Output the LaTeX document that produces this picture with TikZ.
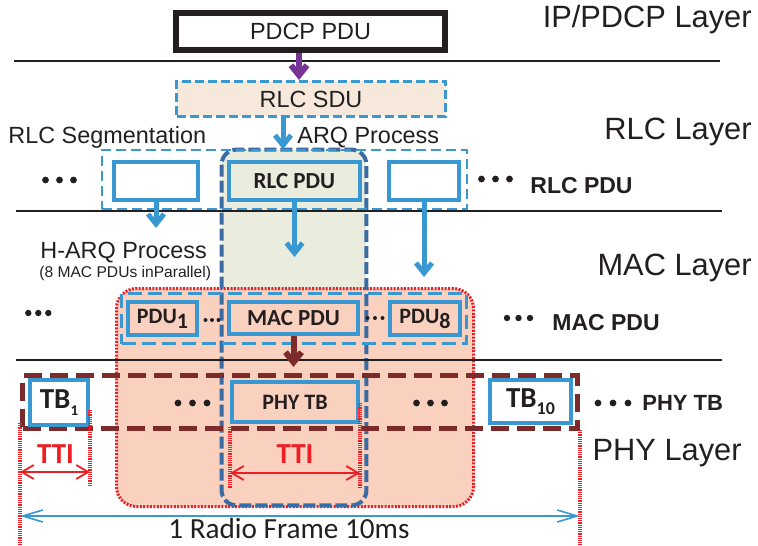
\documentclass[tikz,border=0pt]{standalone}
\usepackage{fontspec}
\setmainfont{Liberation Sans}
\newfontfamily\calibri{Carlito}
\usepackage{tikz}
\usetikzlibrary{arrows.meta}

\definecolor{boxblue}{RGB}{57,152,210}
\definecolor{arqblue}{RGB}{58,108,163}
\definecolor{sdufill}{RGB}{246,233,219}
\definecolor{arqfill}{RGB}{234,237,221}
\definecolor{harqfill}{RGB}{250,208,190}
\definecolor{ttired}{RGB}{237,30,36}
\definecolor{tbmaroon}{RGB}{125,42,42}
\definecolor{pdcppurple}{RGB}{118,52,148}
\definecolor{inkgray}{RGB}{35,31,32}

\newcommand{\fsz}[1]{\fontsize{#1pt}{#1pt}\selectfont}

\begin{document}
\begin{tikzpicture}[x=0.5pt, y=-0.5pt, text=inkgray,
    pdubox/.style={draw=boxblue, line width=2pt, inner sep=0pt, font=\calibri\bfseries\fsz{11.5}},
    groupbox/.style={draw=boxblue, inner sep=0pt},
    levelline/.style={draw=inkgray, line width=1pt},
    layerlabel/.style={anchor=base east, inner sep=0pt, font=\fsz{15.4}},
    sidelabel/.style={anchor=base west, inner sep=0pt, font=\fsz{11.7}},
    rowlabel/.style={anchor=base west, inner sep=0pt, font=\bfseries\fsz{11.5}},
    ttilabel/.style={anchor=base, inner sep=0pt, text=ttired, font=\calibri\bfseries\fsz{14.5}},
    downarrow/.style={line width=2.5pt, -{Straight Barb[length=5pt,width=8pt]}},
    ttimark/.style={draw=ttired, line width=2pt, dash pattern=on 0.6pt off 0.5pt},
    ttiarrow/.style={draw=ttired, line width=0.9pt, {Straight Barb[length=6pt,width=7pt]}-{Straight Barb[length=6pt,width=7pt]}},
    framearrow/.style={draw=boxblue, line width=0.8pt, {Straight Barb[length=10pt,width=6pt]}-{Straight Barb[length=10pt,width=6pt]}}]
    \useasboundingbox (0,0) rectangle (758,545);

    % ARQ column and H-ARQ region behind everything
    \node[fill=arqfill, rounded corners=7.5pt, minimum width=72pt, minimum height=177.5pt, inner sep=0pt] (arqcol) at (294,327.5) {};
    \node[fill=harqfill, draw=ttired, line width=1.5pt, dash pattern=on 1pt off 0.7pt, rounded corners=10pt,
        minimum width=178.5pt, minimum height=109pt, inner sep=0pt] (harq) at (295,397.5) {};
    \draw[arqblue, line width=2pt, dash pattern=on 6pt off 2pt, rounded corners=7.5pt] (arqcol.north west) rectangle (arqcol.south east);

    % Draw layer lines
    \draw[levelline] (14,61) -- (720,61);
    \draw[levelline] (16,211) -- (722,211);
    \draw[levelline] (16,360) -- (722,360);

    % IP/PDCP and RLC SDU
    \node[draw=inkgray, line width=3pt, minimum width=134.5pt, minimum height=18.5pt, inner sep=0pt, font=\fsz{11.7}] (pdcp) at (310.5,31.5) {PDCP PDU};
    \node[groupbox, fill=sdufill, line width=1.5pt, dash pattern=on 4.5pt off 2pt, minimum width=134.5pt, minimum height=17.5pt, font=\fsz{11.7}] (sdu) at (311,99) {RLC SDU};

    % Group outlines
    \node[groupbox, line width=0.8pt, dash pattern=on 5pt off 2.5pt, minimum width=182.5pt, minimum height=29.5pt] (rlcgroup) at (284.5,179.5) {};
    \node[groupbox, line width=1.5pt, dash pattern=on 7pt off 3pt, minimum width=172.5pt, minimum height=25pt] (macgroup) at (294,318.5) {};
    \node[draw=tbmaroon, line width=2.5pt, dash pattern=on 9pt off 4pt, inner sep=0pt, minimum width=277.5pt, minimum height=26.5pt] (phygroup) at (300,402) {};

    % RLC PDUs
    \node[pdubox, fill=white, minimum width=42pt, minimum height=19pt] (rlcseg1) at (156,181) {};
    \node[pdubox, fill=arqfill, minimum width=65.5pt, minimum height=19pt] (rlcpdu) at (294.5,181) {RLC PDU};
    \node[pdubox, fill=white, minimum width=35pt, minimum height=19pt] (rlcseg2) at (424,181) {};

    % MAC PDUs
    \node[pdubox, minimum width=34.5pt, minimum height=16.5pt, font=\calibri\bfseries\fsz{11}] (pdu1) at (162.5,318.5) {PDU\raisebox{-2.5pt}{1}};
    \node[pdubox, minimum width=64.5pt, minimum height=16pt] (macpdu) at (293.5,318) {MAC PDU};
    \node[pdubox, minimum width=35pt, minimum height=16.5pt, font=\calibri\bfseries\fsz{11}] (pdu8) at (425,318.5) {PDU\raisebox{-2.5pt}{8}};

    % PHY transport blocks
    \node[pdubox, fill=white, minimum width=29pt, minimum height=22.5pt, font=\calibri\bfseries\fsz{14.5}] (tb1) at (59,402.5) {TB\raisebox{-3.8pt}{\fsz{7.5}1}};
    \node[pdubox, minimum width=63pt, minimum height=20pt, font=\calibri\bfseries\fsz{11}] (phytb) at (295,402) {PHY TB};
    \node[pdubox, fill=white, minimum width=40.5pt, minimum height=21.5pt, font=\calibri\bfseries\fsz{14.5}] (tb10) at (530.5,401.5) {TB\raisebox{-3.3pt}{\fsz{9}10}};

    % Arrows between layers
    \coordinate (seg1tip) at (156,228);
    \coordinate (pdutip) at (294.5,257);
    \coordinate (seg2tip) at (424,277);
    \coordinate (mactip) at (293.5,367);
    \draw[downarrow, pdcppurple, line width=3pt] (pdcp.south -| 299,0) -- (sdu.north -| 299,0);
    \draw[downarrow, boxblue] (sdu.south -| 283,0) -- (rlcgroup.north -| 283,0);
    \draw[downarrow, boxblue] (rlcseg1.south) -- (seg1tip);
    \draw[downarrow, boxblue] (rlcpdu.south) -- (pdutip);
    \draw[downarrow, boxblue] (rlcseg2.south) -- (seg2tip);
    \draw[downarrow, tbmaroon, line width=3pt] (macpdu.south) -- (mactip);

    % TTI marks and arrows
    \draw[ttimark] (phygroup.west |- 0,423) -- (phygroup.west |- 0,545);
    \draw[ttimark] (tb1.east |- 0,410) -- (tb1.east |- 0,485);
    \draw[ttimark] (phytb.west |- 0,427) -- (phytb.west |- 0,488);
    \draw[ttimark] (phytb.east |- 0,403) -- (phytb.east |- 0,488);
    \draw[ttimark] (phygroup.east |- 0,430) -- (phygroup.east |- 0,545);
    \draw[ttiarrow] (phygroup.west |- 0,472) -- (tb1.east |- 0,472);
    \draw[ttiarrow] (phytb.west |- 0,473) -- (phytb.east |- 0,473);
    \draw[framearrow] (phygroup.west |- 0,516) -- (phygroup.east |- 0,516);

    % Labels
    \node[layerlabel] (iplayer) at (752,28) {IP/PDCP Layer};
    \node[layerlabel] (rlclayer) at (752,140) {RLC Layer};
    \node[layerlabel] (maclayer) at (752,275) {MAC Layer};
    \node[layerlabel] (phylayer) at (742,460) {PHY Layer};
    \node[sidelabel] (seglabel) at (8,144) {RLC Segmentation};
    \node[sidelabel] (arqlabel) at (297,144) {ARQ Process};
    \node[sidelabel] (harqlabel) at (40,258) {H-ARQ Process};
    \node[sidelabel, font=\fsz{7.8}] (harqnote) at (39,277) {(8 MAC PDUs inParallel)};
    \node[rowlabel] (rlcrow) at (530,193) {RLC PDU};
    \node[rowlabel] (macrow) at (552,330) {MAC PDU};
    \node[rowlabel, font=\bfseries\fsz{11}] (phyrow) at (642,410) {PHY TB};
    \node[ttilabel] (tti1) at (55.5,463) {TTI};
    \node[ttilabel] (tti2) at (295,463) {TTI};
    \node[anchor=base west, inner sep=0pt, font=\calibri\fsz{14.6}] (framelabel) at (168,538) {1 Radio Frame 10ms};

    % Dots
    \foreach \x in {45.5,59.5,73.5} \fill[inkgray] (\x,180) circle (1.7pt);
    \foreach \x in {481.5,495.5,509.5} \fill[inkgray] (\x,179) circle (1.7pt);
    \foreach \x in {28.3,38.3,48.3} \fill[inkgray] (\x,313) circle (1.6pt);
    \foreach \x in {205.5,212,218.5} \fill[inkgray] (\x,320) circle (1pt);
    \foreach \x in {367.5,375,382.5} \fill[inkgray] (\x,318) circle (1pt);
    \foreach \x in {507,518.5,530} \fill[inkgray] (\x,318) circle (1.6pt);
    \foreach \x in {178,192.5,207} \fill[inkgray] (\x,403) circle (1.7pt);
    \foreach \x in {416.5,430.5,444.5} \fill[inkgray] (\x,403) circle (1.7pt);
    \foreach \x in {598,613,628} \fill[inkgray] (\x,403) circle (1.7pt);
\end{tikzpicture}
\end{document}
